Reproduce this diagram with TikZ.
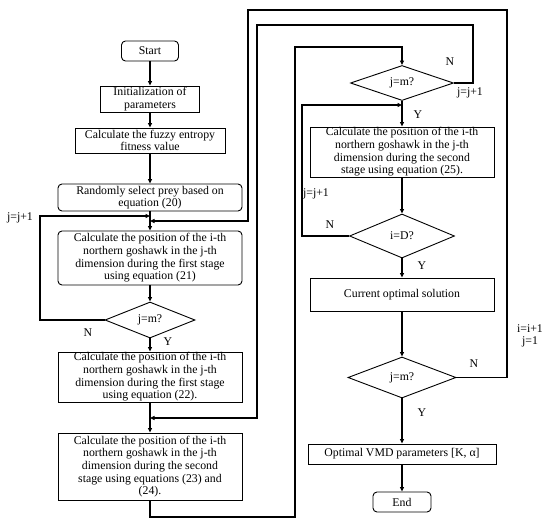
\documentclass[tikz,border=0pt]{standalone}
\usepackage{fontspec}
\setmainfont{Liberation Serif}
\usetikzlibrary{shapes.geometric,arrows.meta}
\begin{document}
\begin{tikzpicture}[x=1pt,y=-1pt,
  every node/.style={font=\fontsize{11.8}{12.6}\selectfont},
  box/.style={draw,line width=0.9pt,inner sep=0pt,align=center},
  rbox/.style={box,rounded corners=4pt},
  dec/.style={draw,line width=0.9pt,diamond,inner sep=0pt,aspect=2.5},
  lbl/.style={inner sep=0pt},
  line/.style={line width=1.1pt},
  arr/.style={line,-{Triangle[length=4.5pt,width=4pt]}}]
\useasboundingbox (0,0) rectangle (550,525);
% left column
\node[rbox,minimum width=57,minimum height=20] (start) at (150,51) {Start};
\node[box,minimum width=99,minimum height=26] (init) at (150,99) {Initialization of\\parameters};
\node[box,minimum width=150,minimum height=25] (fuzzy) at (150,140.5) {Calculate the fuzzy entropy\\fitness value};
\node[rbox,minimum width=184,minimum height=27] (prey) at (150,197.5) {Randomly select prey based on\\equation (20)};
\node[rbox,minimum width=184,minimum height=54] (s21) at (150,258) {Calculate the position of the i-th\\northern goshawk in the j-th\\dimension during the first stage\\using equation (21)};
\node[dec,minimum width=90,minimum height=36] (d1) at (150,320) {j=m?};
\node[box,minimum width=184,minimum height=50] (s22) at (150,377) {Calculate the position of the i-th\\northern goshawk in the j-th\\dimension during the first stage\\using equation (22).};
\node[box,minimum width=184,minimum height=67] (s23) at (150,466.5) {Calculate the position of the i-th\\northern goshawk in the j-th\\dimension during the second\\stage using equations (23) and\\(24).};
% right column
\node[dec,minimum width=103,minimum height=35] (d2) at (402,83) {j=m?};
\node[box,minimum width=184,minimum height=50] (s25) at (402,152) {Calculate the position of the i-th\\northern goshawk in the j-th\\dimension during the second\\stage using equation (25).};
\node[dec,minimum width=105,minimum height=44] (d3) at (402,236) {i=D?};
\node[box,minimum width=184,minimum height=33] (cur) at (402,294.5) {Current optimal solution};
\node[dec,minimum width=108,minimum height=41] (d4) at (402,377.5) {j=m?};
\node[box,minimum width=188,minimum height=20] (vmd) at (402,454) {Optimal VMD parameters [K, α]};
\node[rbox,minimum width=58,minimum height=20] (end) at (402,502) {End};
% junction coordinates
\coordinate (jA) at (150,216);
\coordinate (jB) at (150,221);
\coordinate (jC) at (150,418);
\coordinate (jD) at (402,47);
\coordinate (jE) at (402,105);
% connectors
\draw[arr] (start) -- (init);
\draw[arr] (init) -- (fuzzy);
\draw[arr] (fuzzy) -- (prey);
\draw[arr] (prey) -- (s21);
\draw[arr] (s21) -- (d1);
\draw[arr] (d1) -- (s22);
\draw[arr] (d1.west) -- (40,320) -- (40,216) -- (jA);
\draw[arr] (s22) -- (s23);
\draw[arr] (d2.east) -- (473,83) -- (473,25) -- (257,25) -- (257,418) -- (jC);
\draw[arr] (s23.south) -- (150,517) -- (295,517) -- (295,47) -- (jD) -- (d2.north);
\draw[arr] (d2) -- (s25);
\draw[arr] (s25) -- (d3);
\draw[arr] (d3.west) -- (302,236) -- (302,105) -- (jE);
\draw[arr] (d3) -- (cur);
\draw[arr] (cur) -- (d4);
\draw[arr] (d4.east) -- (507,377.5) -- (507,10) -- (248,10) -- (248,221) -- (jB);
\draw[arr] (d4) -- (vmd);
\draw[arr] (vmd) -- (end);
% labels
\node[lbl] (l1) at (20,218) {j=j+1};
\node[lbl] (l2) at (88,333) {N};
\node[lbl] (l3) at (168,342) {Y};
\node[lbl] (l4) at (450,62) {N};
\node[lbl] (l5) at (470,93) {j=j+1};
\node[lbl] (l6) at (418,115) {Y};
\node[lbl] (l7) at (316,194) {j=j+1};
\node[lbl] (l8) at (330,225) {N};
\node[lbl] (l9) at (422,266) {Y};
\node[lbl] (l10) at (474,364) {N};
\node[lbl,align=center] (l11) at (530,336) {i=i+1\\j=1};
\node[lbl] (l12) at (422,413) {Y};
\end{tikzpicture}
\end{document}
